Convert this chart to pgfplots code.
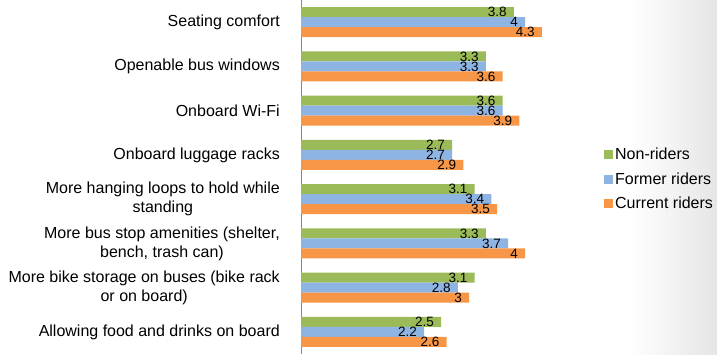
\documentclass[border=0pt]{standalone}
\usepackage{fontspec}
\setmainfont{Liberation Sans}
\usepackage{pgfplots}
\pgfplotsset{compat=1.18}
\definecolor{cgreen}{HTML}{9BBB59}
\definecolor{cblue}{HTML}{8EB4E3}
\definecolor{corange}{HTML}{F79646}
\begin{document}
\begin{tikzpicture}[x=1pt,y=1pt]
\useasboundingbox (0,0) rectangle (717,354);
\shade[left color=white, right color=black!10] (630,0) rectangle (717,354);
\begin{axis}[
  at={(301pt,0pt)}, anchor=south west,
  scale only axis, width=288pt, height=354pt,
  xmin=0, xmax=5.142857, ymin=-0.5, ymax=7.5,
  xbar, bar width=10pt,
  axis y line*=left, axis x line=none,
  y axis line style={draw=black!47, line width=0.8pt, -},
  ytick={0,...,7}, major tick length=0pt,
  yticklabels={
    Allowing food and drinks on board,
    {More bike storage on buses (bike rack\\or on board)},
    {More bus stop amenities (shelter,\\bench, trash can)},
    {More hanging loops to hold while\\standing},
    Onboard luggage racks,
    Onboard Wi-Fi,
    Openable bus windows,
    Seating comfort},
  yticklabel style={anchor=east, align=center, inner sep=0pt, xshift=-21pt,
    font=\fontsize{16}{19}\selectfont},
  nodes near coords,
  /pgf/number format/assume math mode=true,
  every node near coord/.append style={anchor=east, inner sep=0pt, xshift=-7pt,
    text=black, font=\fontsize{13.5}{14}\selectfont},
  legend style={draw=none, fill=none, at={(1.052,0.494)}, anchor=west,
    font=\fontsize{16}{18}\selectfont, row sep=7.5pt, inner sep=0pt,
    cells={anchor=west}},
  legend image code/.code={\fill[#1, draw=none] (0pt,-4.5pt) rectangle (9pt,4.5pt);},
]
\addplot[fill=cgreen, draw=none, bar shift=10pt] coordinates {
  (2.5,0) (3.1,1) (3.3,2) (3.1,3) (2.7,4) (3.6,5) (3.3,6) (3.8,7)};
\addplot[fill=cblue, draw=none, bar shift=0pt] coordinates {
  (2.2,0) (2.8,1) (3.7,2) (3.4,3) (2.7,4) (3.6,5) (3.3,6) (4,7)};
\addplot[fill=corange, draw=none, bar shift=-10pt] coordinates {
  (2.6,0) (3,1) (4,2) (3.5,3) (2.9,4) (3.9,5) (3.6,6) (4.3,7)};
\legend{Non-riders, Former riders, Current riders}
\end{axis}
\end{tikzpicture}
\end{document}
